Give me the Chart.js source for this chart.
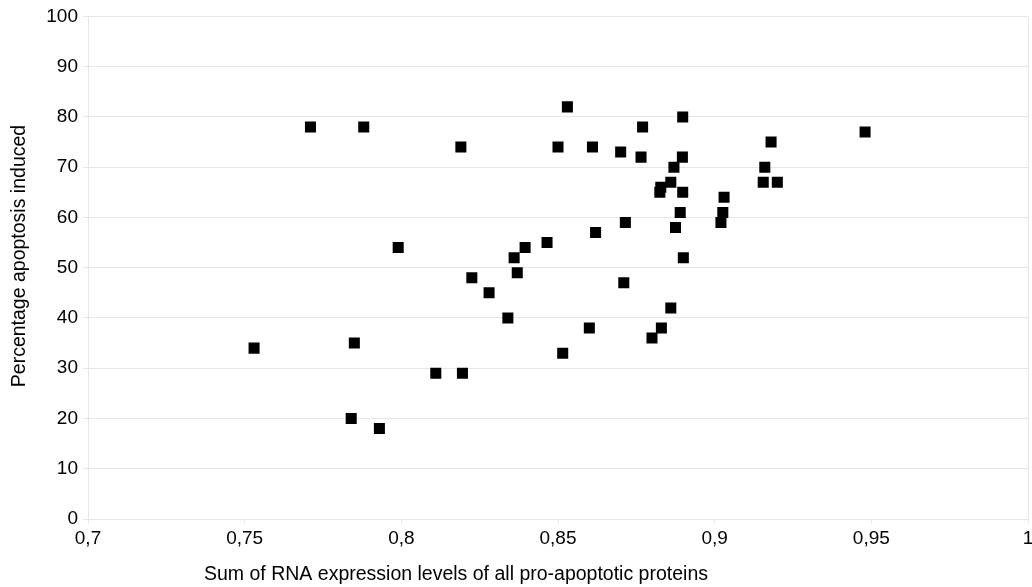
<!DOCTYPE html>
<html>
<head>
<meta charset="utf-8">
<script src="https://cdn.jsdelivr.net/npm/chart.js@4/dist/chart.umd.min.js"></script>
<style>
  html,body{margin:0;padding:0;background:#fff;}
  #wrap{width:1032px;height:587px;}
</style>
</head>
<body>
<div id="wrap"><canvas id="c" width="1032" height="587"></canvas></div>
<script>
// RNA expression sum (x) vs % apoptosis (y)
const rnaSum=[0.753,0.771,0.788,0.784,0.785,0.793,0.799,0.811,0.819,0.8195,
  0.8225,0.828,0.834,0.836,0.837,0.8395,0.8465,0.850,0.8515,0.853,
  0.860,0.861,0.862,0.870,0.871,0.8715,0.8765,0.877,0.880,0.883,
  0.8825,0.8828,0.886,0.886,0.887,0.8875,0.889,0.8897,0.8898,0.8898,
  0.890,0.902,0.9026,0.903,0.9155,0.916,0.918,0.920,0.948];
const apoptosis=[34,78,78,20,35,18,54,29,74,29,
  48,45,40,52,49,54,55,74,33,82,
  38,74,57,73,47,59,72,78,36,38,
  65,66,67,42,70,58,61,72,80,65,
  52,59,61,64,67,70,75,67,77];
const xTicks=[0.7,0.75,0.8,0.85,0.9,0.95,1];
const yTicks=[0,10,20,30,40,50,60,70,80,90,100];
const xTitle='Sum of RNA expression levels of all pro-apoptotic proteins';
const yTitle='Percentage apoptosis induced';

const pts=rnaSum.map((x,i)=>({x,y:apoptosis[i]}));
const font={family:'Arial, "Liberation Sans", sans-serif',size:19};
const gridCol='#e6e6e6';

// axis titles in the original sit off-centre, so draw them by hand
const axisTitles={
  id:'axisTitles',
  afterDraw(chart){
    const ctx=chart.ctx;
    ctx.save();
    ctx.fillStyle='#000';
    ctx.font='19.5px Arial, "Liberation Sans", sans-serif';
    ctx.textAlign='center';ctx.textBaseline='middle';
    ctx.fillText(xTitle,456,575);
    ctx.translate(20,256);ctx.rotate(-Math.PI/2);
    ctx.fillText(yTitle,0,0);
    ctx.restore();
  }
};

new Chart(document.getElementById('c'),{
  type:'scatter',
  data:{datasets:[{
    label:'apoptosis',
    data:pts,
    pointStyle:'rect',
    pointRadius:7.8,
    pointHoverRadius:7.8,
    pointBorderWidth:0,
    backgroundColor:'#000',
    borderColor:'#000'
  }]},
  options:{
    responsive:false,
    animation:false,
    layout:{autoPadding:false,padding:{top:16,right:4,left:0,bottom:0}},
    plugins:{legend:{display:false},tooltip:{enabled:false}},
    scales:{
      x:{
        type:'linear',min:0.7,max:1,
        afterBuildTicks:s=>{s.ticks=xTicks.map(v=>({value:v}));},
        afterFit:s=>{s.height=68;s.paddingRight=0;},
        ticks:{color:'#000',font,padding:3,maxRotation:0,callback:v=>String(+v.toFixed(2)).replace('.',',')},
        // only the right edge (x=1) shows a vertical line, others are tick marks
        grid:{color:c=>c.tick&&c.tick.value===1?gridCol:'rgba(0,0,0,0)',tickLength:5,tickColor:gridCol},
        border:{color:gridCol}
      },
      y:{
        min:0,max:100,
        afterBuildTicks:s=>{s.ticks=yTicks.map(v=>({value:v}));},
        afterFit:s=>{s.width=88;},
        ticks:{color:'#000',font,padding:5},
        grid:{color:gridCol,tickLength:5,tickColor:gridCol},
        border:{color:gridCol}
      }
    }
  },
  plugins:[axisTitles]
});
</script>
</body>
</html>
